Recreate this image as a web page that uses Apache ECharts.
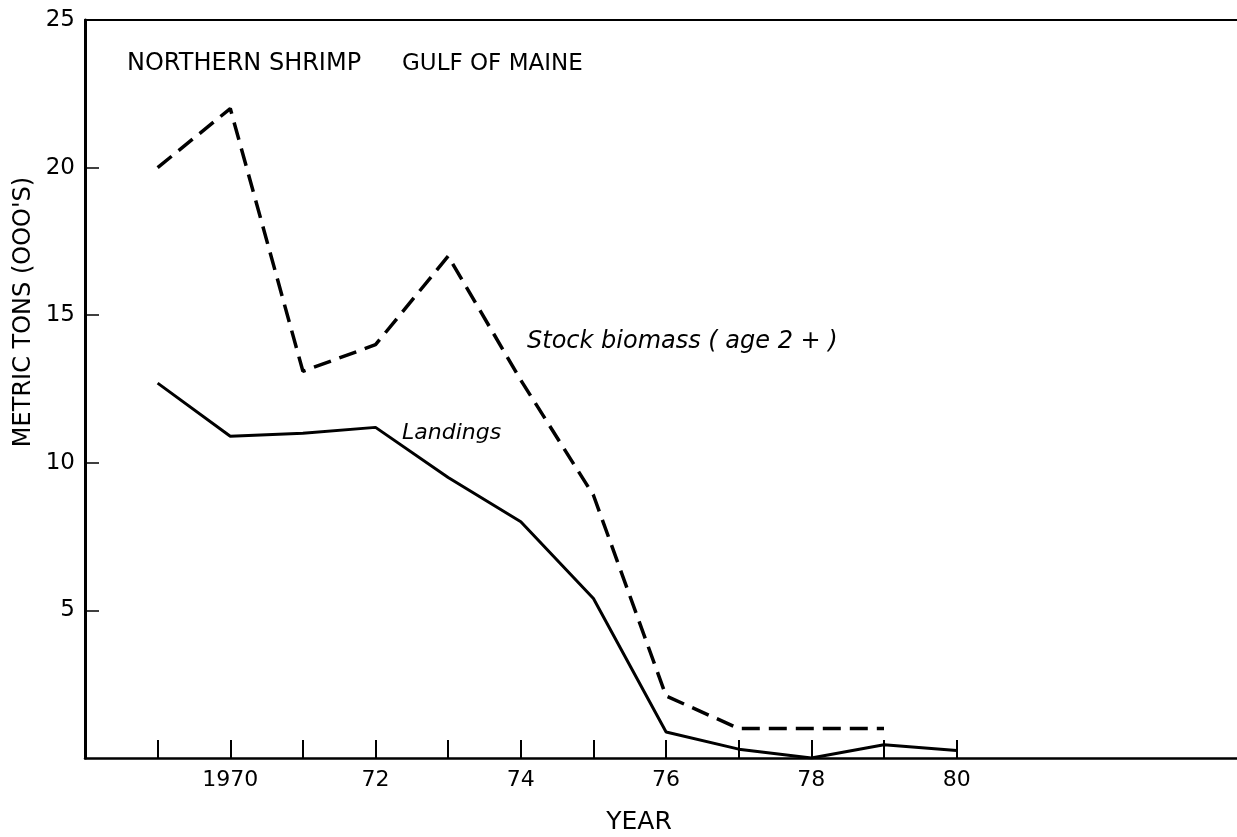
<!DOCTYPE html>
<html>
<head>
<meta charset="utf-8">
<script src="https://cdn.jsdelivr.net/npm/echarts@6/dist/echarts.min.js"></script>
<style>
html,body{margin:0;padding:0;background:#fff;}
#chart{width:1237px;height:837px;}
</style>
</head>
<body>
<div id="chart"></div>
<script>
// ---- data ----
var landingYears = [1969, 1970, 1971, 1972, 1973, 1974, 1975, 1976, 1977, 1978, 1979, 1980];
var landings     = [12.7, 10.9, 11.0, 11.2, 9.5, 8.0, 5.4, 0.88, 0.3, 0.0, 0.45, 0.25];
var stockYears   = [1969, 1970, 1971, 1972, 1973, 1974, 1975, 1976, 1977, 1978, 1979];
var stockBiomass = [20.0, 22.0, 13.1, 14.0, 17.0, 12.8, 8.9, 2.1, 1.0, 1.0, 1.0];
var xTickYears   = [1969, 1970, 1971, 1972, 1973, 1974, 1975, 1976, 1977, 1978, 1979, 1980];
var xLabelYears  = [1970, 1972, 1974, 1976, 1978, 1980];
var yTickValues  = [5, 10, 15, 20];
var yLabelValues = [5, 10, 15, 20, 25];

var FONT = 'DejaVu Sans';
var INK = '#000';

function pairs(xs, ys) { return xs.map(function (x, i) { return [x, ys[i]]; }); }

var chart = echarts.init(document.getElementById('chart'), null, {renderer: 'canvas'});
chart.setOption({
  backgroundColor: '#fff',
  animation: false,
  grid: {left: 85, top: 20, right: 0, bottom: 79, containLabel: false},
  xAxis: [{
    type: 'value', min: 1968, max: 1983.86, position: 'bottom',
    axisLine: {show: true, lineStyle: {color: INK, width: 2.5}},
    axisTick: {show: true, inside: true, length: 18, customValues: xTickYears, lineStyle: {color: INK, width: 2}},
    axisLabel: {show: true, customValues: xLabelYears, margin: 11, color: INK, fontFamily: FONT, fontSize: 22,
      formatter: function (v) { return v === 1970 ? '1970' : String(v).slice(2); }},
    splitLine: {show: false}
  }, {
    type: 'value', min: 1968, max: 1983.86, position: 'top',
    axisLine: {show: true, lineStyle: {color: INK, width: 2}},
    axisTick: {show: false}, axisLabel: {show: false}, splitLine: {show: false}
  }],
  yAxis: {
    type: 'value', min: 0, max: 25, interval: 5,
    axisLine: {show: true, lineStyle: {color: INK, width: 3}},
    axisTick: {show: true, inside: true, length: 14, customValues: yTickValues, lineStyle: {color: INK, width: 1.5}},
    axisLabel: {show: true, customValues: yLabelValues, margin: 10, color: INK, fontFamily: FONT, fontSize: 23},
    splitLine: {show: false}
  },
  series: [{
    name: 'Landings', type: 'line', xAxisIndex: 0, symbol: 'none',
    data: pairs(landingYears, landings),
    lineStyle: {color: INK, width: 3, type: 'solid'}
  }, {
    name: 'Stock biomass (age 2 +)', type: 'line', xAxisIndex: 0, symbol: 'none',
    data: pairs(stockYears, stockBiomass),
    lineStyle: {color: INK, width: 3.5, type: [18, 9]}
  }],
  graphic: [
    {type: 'text', x: 127, y: 64, style: {text: 'NORTHERN SHRIMP', font: '24px "' + FONT + '"', fill: INK, align: 'left', verticalAlign: 'middle'}},
    {type: 'text', x: 402, y: 64, style: {text: 'GULF OF MAINE', font: '23px "' + FONT + '"', fill: INK, align: 'left', verticalAlign: 'middle'}},
    {type: 'text', x: 527, y: 342, style: {text: 'Stock biomass ( age 2 + )', font: 'italic 24px "' + FONT + '"', fill: INK, align: 'left', verticalAlign: 'middle'}},
    {type: 'text', x: 402, y: 433, style: {text: 'Landings', font: 'italic 22px "' + FONT + '"', fill: INK, align: 'left', verticalAlign: 'middle'}},
    {type: 'text', x: 639, y: 822, style: {text: 'YEAR', font: '25px "' + FONT + '"', fill: INK, align: 'center', verticalAlign: 'middle'}},
    {type: 'text', x: 24, y: 312, rotation: Math.PI / 2, style: {text: "METRIC TONS (OOO'S)", font: '24px "' + FONT + '"', fill: INK, align: 'center', verticalAlign: 'middle'}}
  ]
});
</script>
</body>
</html>
